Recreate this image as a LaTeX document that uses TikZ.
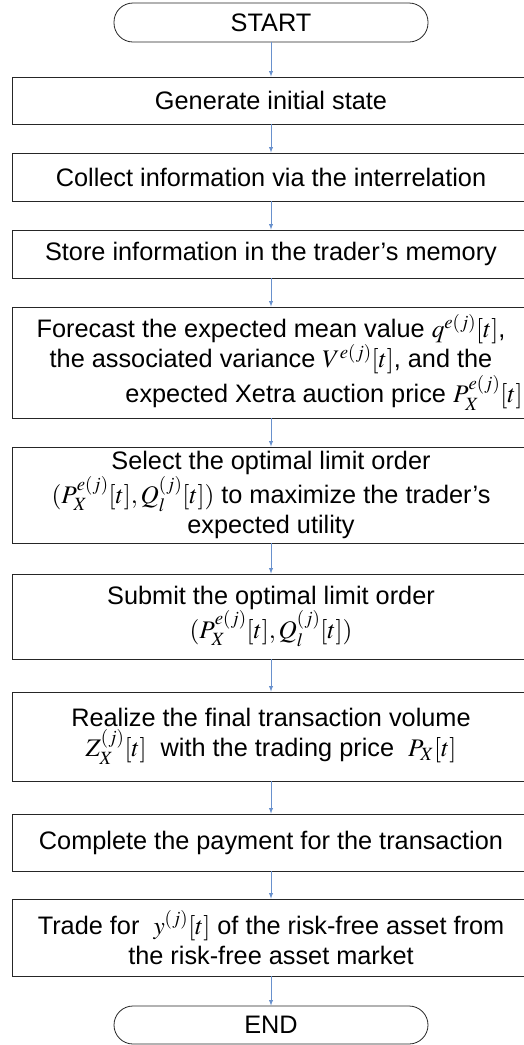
\documentclass[tikz,border=0pt]{standalone}
\usepackage{mathptmx}
\usepackage[no-math]{fontspec}
\setmainfont{Liberation Sans}
\usepackage{tikz}
\usetikzlibrary{arrows, shapes}

\definecolor{flowblue}{RGB}{105,145,205}

\begin{document}
\begin{tikzpicture}[x=1pt, y=1pt, >=latex, semithick,
	box/.style={draw=black!85, rectangle, thick, minimum width=518pt, align=center, inner sep=2pt, font=\fontsize{25.3}{30}\selectfont},
	term/.style={draw=black!85, rectangle, thick, rounded corners=19pt, minimum width=314pt, font=\fontsize{25.3}{30}\selectfont},
	flow/.style={->, draw=flowblue, line width=0.9pt}]
		\useasboundingbox (0, 0) rectangle (523, -1045);
		\node[term, minimum height=39pt] (start) at (271, -22.5) {START};
		\node[box, minimum height=47pt] (gen) at (271, -100.5) {Generate initial state};
		\node[box, minimum height=48pt] (coll) at (271, -177) {Collect information via the interrelation};
		\node[box, minimum height=48pt] (store) at (271, -254) {Store information in the trader's memory};
		\node[box, minimum height=111pt] (fore) at (271, -362.5) {Forecast the expected mean value $q^{e(j)}[t]$,\\
			the associated variance $V^{e(j)}[t]$, and the\\
			\hspace*{106pt}expected Xetra auction price $P_X^{e(j)}[t]$};
		\node[box, minimum height=96pt] (sel) at (271, -495) {Select the optimal limit order\\
			$(P_X^{e(j)}[t],Q_l^{(j)}[t])$ to maximize the trader's\\
			expected utility};
		\node[box, minimum height=85pt] (sub) at (271, -616.5) {Submit the optimal limit order\\
			$(P_X^{e(j)}[t],Q_l^{(j)}[t])$};
		\node[box, minimum height=89pt] (real) at (271, -736.5) {Realize the final transaction volume\\
			$Z_X^{(j)}[t]$ \ with the trading price \ $P_X[t]$};
		\node[box, minimum height=57pt] (comp) at (271, -842.5) {Complete the payment for the transaction};
		\node[box, minimum height=77pt] (trade) at (271, -937.5) {Trade for \ $y^{(j)}[t]$ of the risk-free asset from\\
			the risk-free asset market};
		\node[term, minimum height=38pt] (end) at (271, -1025) {END};

		\path[every edge/.append style={flow}] (start) edge (gen)
			(gen) edge (coll)
			(coll) edge (store)
			(store) edge (fore)
			(fore) edge (sel)
			(sel) edge (sub)
			(sub) edge (real)
			(real) edge (comp)
			(comp) edge (trade)
			(trade) edge (end);
	\end{tikzpicture}
\end{document}
